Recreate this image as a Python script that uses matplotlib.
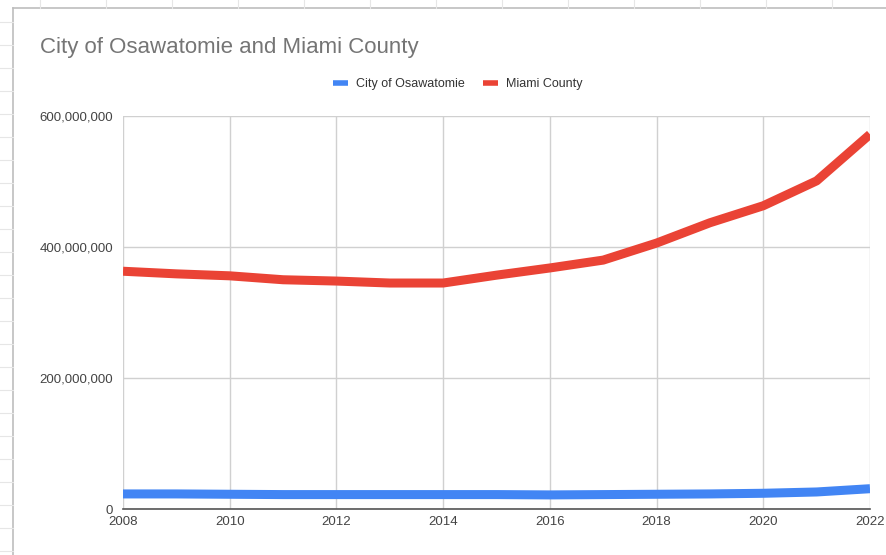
import matplotlib.pyplot as plt
from matplotlib.ticker import FuncFormatter
from matplotlib.lines import Line2D

plt.rcParams['font.family'] = ['Liberation Sans', 'DejaVu Sans']

# data
years = list(range(2008, 2023))
osawatomie = [23, 23, 22.5, 22, 22, 22, 22, 22, 21.5, 22, 22.5, 23, 24, 26, 31]
miami = [363, 359, 356, 350, 348, 345, 345, 357, 368, 380, 406, 437, 463, 501, 572]
osawatomie = [v * 1e6 for v in osawatomie]
miami = [v * 1e6 for v in miami]

x_ticks = list(range(2008, 2023, 2))
y_ticks = [0, 200e6, 400e6, 600e6]

W, H = 887, 555
fig = plt.figure(figsize=(W / 100, H / 100), dpi=100)
fig.patch.set_facecolor("white")

# spreadsheet frame behind the chart
fig.add_artist(Line2D([13 / W, 13 / W], [0, 1 - 8 / H], transform=fig.transFigure, color="#bdbdbd", lw=1.2))
fig.add_artist(Line2D([13 / W, 1], [1 - 8 / H, 1 - 8 / H], transform=fig.transFigure, color="#bdbdbd", lw=1.2))
for px in range(40, W, 66):
    fig.add_artist(Line2D([px / W, px / W], [1 - 8 / H, 1], transform=fig.transFigure, color="#e6e6e6", lw=0.8))
for py in range(22, H, 23):
    fig.add_artist(Line2D([0, 13 / W], [1 - py / H, 1 - py / H], transform=fig.transFigure, color="#e6e6e6", lw=0.8))

ax = fig.add_axes([123 / W, 1 - 509 / H, (870 - 123) / W, (509 - 116) / H])
ax.plot(years, osawatomie, color="#4285f4", lw=6.5, solid_capstyle="butt", solid_joinstyle="round", label="City of Osawatomie")
ax.plot(years, miami, color="#ea4335", lw=6.5, solid_capstyle="butt", solid_joinstyle="round", label="Miami County")

ax.set_xlim(2008, 2022)
ax.set_ylim(0, 600e6)
ax.set_xticks(x_ticks)
ax.set_yticks(y_ticks)
ax.yaxis.set_major_formatter(FuncFormatter(lambda v, p: f"{int(v):,}"))
ax.grid(True, color="#d0d0d0", lw=1)
ax.set_axisbelow(True)
for s in ["top", "right", "left"]:
    ax.spines[s].set_visible(False)
ax.spines["bottom"].set_color("#555555")
ax.spines["bottom"].set_linewidth(1.2)
ax.tick_params(length=0, labelsize=9.5, colors="#444444")
ax.tick_params(axis="x", pad=5)
ax.tick_params(axis="y", pad=7)

fig.text(40 / W, 1 - 47 / H, "City of Osawatomie and Miami County", fontsize=16, color="#757575", va="center")
ax.legend(loc="center", bbox_to_anchor=(458 / W, 1 - 84 / H), bbox_transform=fig.transFigure,
          ncol=2, frameon=False, fontsize=9, handlelength=1.2, handletextpad=0.6, columnspacing=1.5,
          labelcolor="#333333")
for h in ax.get_legend().get_lines():
    h.set_linewidth(4)

fig.savefig("out.png", dpi=100)
